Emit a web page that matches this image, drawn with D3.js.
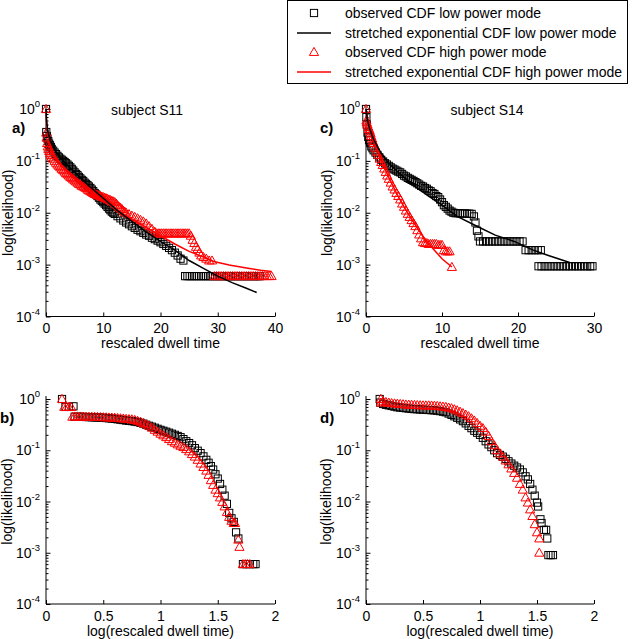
<!DOCTYPE html>
<html><head><meta charset="utf-8">
<script src="https://cdn.jsdelivr.net/npm/d3@7"></script>
<style>body{margin:0;background:#fff}text{font-family:"Liberation Sans",Arial,sans-serif;fill:#000}</style>
</head><body><svg id="c" width="632" height="639"></svg>
<script>
// ---------- data ----------
const legendLabels = ["observed CDF low power mode","stretched exponential CDF low power mode","observed CDF high power mode","stretched exponential CDF high power mode"];
const panelLetters = ["a)","c)","b)","d)"];
const panelTitles = ["subject S11","subject S14"];
const yTickExps = [0,-1,-2,-3,-4];
const xTicksLin = [[0,10,20,30,40],[0,10,20,30]];
const xTicksLog = [0,0.5,1,1.5,2];

// S11, rescaled dwell time
const s11LowObs = [[0,1],[0.05,0.36],[0.15,0.3],[0.25,0.27],[0.4,0.24],[0.55,0.215],[0.7,0.2],[0.85,0.185],[1,0.17],[1.25,0.157],[1.5,0.145],[1.75,0.135],[2,0.125],[2.25,0.117],[2.5,0.11],[2.75,0.105],[3,0.1],[3.25,0.095],[3.5,0.09],[3.75,0.085],[4,0.08],[4.25,0.075],[4.5,0.07],[4.75,0.065],[5,0.06],[5.25,0.056],[5.5,0.053],[5.75,0.049],[6,0.046],[6.25,0.043],[6.5,0.041],[6.75,0.038],[7,0.036],[7.25,0.034],[7.5,0.032],[7.75,0.03],[8,0.028],[8.25,0.026],[8.5,0.024],[8.75,0.0225],[9,0.021],[9.25,0.0195],[9.5,0.018],[9.75,0.017],[10,0.016],[10.25,0.015],[10.5,0.014],[10.75,0.013],[11,0.012],[11.25,0.0112],[11.5,0.0105],[11.75,0.01],[12,0.0095],[12.5,0.0086],[13,0.0078],[13.5,0.0071],[14,0.0065],[14.5,0.006],[15,0.0055],[15.5,0.0051],[16,0.0047],[16.5,0.0044],[17,0.0041],[17.5,0.0038],[18,0.0036],[18.5,0.0033],[19,0.0031],[19.5,0.0029],[20,0.0027],[20.5,0.0025],[21,0.0023],[21.5,0.0021],[22,0.0019],[22.5,0.0017],[23,0.0015],[23.5,0.0013],[24,0.0012],[24.3,0.0006],[24.7,0.0006],[25.1,0.0006],[25.5,0.0006],[25.9,0.0006],[26.3,0.0006],[26.7,0.0006],[27.1,0.0006],[27.5,0.0006],[27.9,0.0006],[28.3,0.0006],[28.7,0.0006],[29.1,0.0006],[29.5,0.0006],[29.9,0.0006],[30.3,0.0006],[30.7,0.0006],[31.1,0.0006],[31.5,0.0006],[31.9,0.0006],[32.3,0.0006],[32.7,0.0006],[33.1,0.0006],[33.5,0.0006],[33.9,0.0006],[34.3,0.0006],[34.7,0.0006],[35.1,0.0006],[35.5,0.0006],[35.9,0.0006],[36.3,0.0006],[36.7,0.0006],[37.1,0.0006],[37.4,0.0006]];
const s11HighObs = [[0,1],[0.05,0.35],[0.1,0.28],[0.2,0.22],[0.3,0.19],[0.4,0.17],[0.55,0.155],[0.7,0.14],[0.85,0.13],[1,0.12],[1.25,0.11],[1.5,0.1],[1.75,0.092],[2,0.085],[2.25,0.08],[2.5,0.075],[2.75,0.07],[3,0.066],[3.25,0.062],[3.5,0.058],[3.75,0.055],[4,0.052],[4.25,0.049],[4.5,0.047],[4.75,0.044],[5,0.042],[5.25,0.04],[5.5,0.038],[5.75,0.036],[6,0.035],[6.25,0.033],[6.5,0.032],[6.75,0.031],[7,0.03],[7.25,0.028],[7.5,0.027],[7.75,0.026],[8,0.025],[8.25,0.024],[8.5,0.023],[8.75,0.0225],[9,0.022],[9.25,0.0215],[9.5,0.021],[9.75,0.0205],[10,0.02],[10.25,0.0195],[10.5,0.019],[10.75,0.0185],[11,0.018],[11.25,0.0175],[11.5,0.017],[11.75,0.0165],[12,0.016],[12.25,0.015],[12.5,0.014],[12.75,0.013],[13,0.0125],[13.25,0.0118],[13.5,0.011],[13.75,0.0105],[14,0.01],[14.5,0.0094],[15,0.0088],[15.5,0.0083],[16,0.0078],[16.5,0.0073],[17,0.0068],[17.5,0.0062],[18,0.0055],[18.5,0.0049],[19,0.0043],[19.3,0.004],[19.6,0.004],[19.9,0.004],[20.2,0.004],[20.5,0.004],[20.8,0.004],[21.1,0.004],[21.4,0.004],[21.7,0.004],[22,0.004],[22.3,0.004],[22.6,0.004],[22.9,0.004],[23.2,0.004],[23.5,0.004],[23.8,0.004],[24.1,0.004],[24.4,0.004],[24.7,0.004],[25,0.004],[25.3,0.0036],[25.6,0.003],[25.9,0.0026],[26.2,0.0022],[26.5,0.002],[26.8,0.0017],[27.1,0.0015],[27.5,0.0014],[28,0.0013],[28.5,0.0012],[29,0.0012],[29.4,0.0006],[29.8,0.0006],[30.2,0.0006],[30.6,0.0006],[31,0.0006],[31.4,0.0006],[31.8,0.0006],[32.2,0.0006],[32.6,0.0006],[33,0.0006],[33.4,0.0006],[33.8,0.0006],[34.2,0.0006],[34.6,0.0006],[35,0.0006],[35.4,0.0006],[35.8,0.0006],[36.2,0.0006],[36.6,0.0006],[37,0.0006],[37.4,0.0006],[37.8,0.0006],[38.2,0.0006],[38.6,0.0006],[39,0.0006],[39.4,0.0006]];
const s11LowFit = [[0,1],[0.1,0.6],[0.3,0.38],[0.7,0.25],[1.5,0.16],[3,0.1],[5,0.06],[7.5,0.033],[10,0.019],[12.5,0.011],[15,0.0068],[17.5,0.0043],[20,0.0028],[22.5,0.0019],[25,0.0012],[27.5,0.00085],[30,0.0006],[32.5,0.00045],[35,0.00035],[36.8,0.00029]];
const s11HighFit = [[0,1],[0.1,0.55],[0.3,0.35],[0.7,0.22],[1.5,0.13],[3,0.075],[5,0.045],[7.5,0.027],[10,0.017],[12.5,0.011],[15,0.0075],[17.5,0.0052],[20,0.0036],[22.5,0.0025],[25,0.0018],[27.5,0.0014],[29.3,0.00115],[32,0.00098],[35,0.00086],[37.5,0.00078],[39.4,0.00074]];

// S14, rescaled dwell time
const s14LowObs = [[0,1],[0.05,0.7],[0.1,0.5],[0.2,0.35],[0.3,0.29],[0.4,0.25],[0.55,0.22],[0.7,0.19],[0.85,0.175],[1,0.16],[1.25,0.145],[1.5,0.13],[1.75,0.117],[2,0.105],[2.25,0.097],[2.5,0.09],[2.75,0.085],[3,0.08],[3.25,0.075],[3.5,0.071],[3.75,0.068],[4,0.065],[4.25,0.062],[4.5,0.06],[4.75,0.056],[5,0.052],[5.25,0.05],[5.5,0.047],[5.75,0.045],[6,0.043],[6.25,0.041],[6.5,0.039],[6.75,0.037],[7,0.035],[7.25,0.033],[7.5,0.032],[7.75,0.03],[8,0.029],[8.25,0.027],[8.5,0.026],[8.75,0.024],[9,0.023],[9.25,0.021],[9.5,0.02],[9.75,0.018],[10,0.016],[10.25,0.014],[10.5,0.013],[10.75,0.012],[11,0.011],[11.25,0.0105],[11.5,0.01],[11.8,0.0098],[12.1,0.0098],[12.4,0.0097],[12.7,0.0097],[13,0.0097],[13.3,0.0096],[13.6,0.0096],[13.9,0.0095],[14.2,0.0085],[14.4,0.0065],[14.6,0.0045],[14.8,0.0035],[15,0.0028],[15.4,0.0028],[15.8,0.0028],[16.2,0.0028],[16.6,0.0028],[17,0.0028],[17.4,0.0028],[17.8,0.0028],[18.2,0.0028],[18.6,0.0028],[19,0.0028],[19.4,0.0028],[19.8,0.0028],[20.2,0.0028],[20.6,0.0028],[21,0.0019],[21.4,0.0019],[21.8,0.0019],[22.2,0.0019],[22.6,0.0019],[23,0.0019],[22.7,0.00093],[23.1,0.00093],[23.5,0.00093],[23.9,0.00093],[24.3,0.00093],[24.7,0.00093],[25.1,0.00093],[25.5,0.00093],[25.9,0.00093],[26.3,0.00093],[26.7,0.00093],[27.1,0.00093],[27.5,0.00093],[27.9,0.00093],[28.3,0.00093],[28.7,0.00093],[29.1,0.00093],[29.5,0.00093],[29.8,0.00093]];
const s14HighObs = [[0,1],[0.05,0.6],[0.1,0.55],[0.2,0.5],[0.3,0.45],[0.4,0.41],[0.5,0.38],[0.6,0.34],[0.7,0.3],[0.8,0.27],[0.9,0.24],[1,0.22],[1.2,0.18],[1.4,0.15],[1.6,0.13],[1.8,0.11],[2,0.095],[2.2,0.083],[2.4,0.071],[2.6,0.061],[2.8,0.052],[3,0.045],[3.25,0.038],[3.5,0.032],[3.75,0.028],[4,0.024],[4.25,0.021],[4.5,0.018],[4.75,0.015],[5,0.013],[5.25,0.011],[5.5,0.0095],[5.75,0.0083],[6,0.0072],[6.25,0.0063],[6.5,0.0055],[6.75,0.0046],[7,0.0038],[7.25,0.0032],[7.5,0.0027],[7.75,0.0026],[8,0.0026],[8.25,0.0025],[8.5,0.0025],[8.75,0.0025],[9,0.0025],[9.25,0.0025],[9.5,0.0024],[9.75,0.0024],[10,0.0024],[10.25,0.0019],[10.5,0.0018],[10.75,0.0018],[11,0.0018],[11.3,0.0009]];
const s14LowFit = [[0,1],[0.2,0.6],[0.5,0.4],[1,0.26],[2,0.14],[3,0.09],[4,0.065],[5,0.048],[6,0.036],[8,0.022],[10,0.014],[12,0.0085],[14.6,0.0055],[17,0.0037],[19.5,0.0028],[22,0.0019],[24,0.0015],[26.8,0.0011]];
const s14HighFit = [[0,1],[0.5,0.4],[1,0.24],[2,0.1],[3,0.048],[4,0.024],[5,0.013],[6,0.0075],[7,0.0045],[8,0.0028],[9,0.0019],[10,0.0013],[11.3,0.0009]];

// S11, log(rescaled dwell time)
const s11LowLog = [[0.14,1],[0.17,0.7],[0.2,0.7],[0.24,0.72],[0.25,0.45],[0.275,0.45],[0.3,0.45],[0.325,0.448],[0.35,0.445],[0.375,0.443],[0.4,0.44],[0.425,0.438],[0.45,0.435],[0.475,0.433],[0.5,0.43],[0.525,0.425],[0.55,0.42],[0.575,0.415],[0.6,0.41],[0.625,0.402],[0.65,0.395],[0.675,0.388],[0.7,0.38],[0.725,0.375],[0.75,0.37],[0.775,0.362],[0.8,0.355],[0.825,0.343],[0.85,0.33],[0.875,0.315],[0.9,0.3],[0.925,0.288],[0.95,0.275],[0.975,0.262],[1,0.25],[1.025,0.24],[1.05,0.23],[1.075,0.22],[1.1,0.21],[1.125,0.2],[1.15,0.19],[1.175,0.18],[1.2,0.165],[1.225,0.15],[1.25,0.138],[1.275,0.125],[1.3,0.11],[1.325,0.098],[1.35,0.088],[1.375,0.076],[1.4,0.065],[1.42,0.057],[1.44,0.049],[1.46,0.042],[1.48,0.034],[1.5,0.028],[1.52,0.022],[1.54,0.017],[1.56,0.013],[1.58,0.009],[1.6,0.006],[1.62,0.0047],[1.64,0.004],[1.66,0.0025],[1.68,0.0019],[1.72,0.0006],[1.75,0.0006],[1.78,0.0006],[1.81,0.0006],[1.83,0.0006]];
const s11HighLog = [[0.14,1],[0.16,0.7],[0.18,0.7],[0.2,0.7],[0.22,0.7],[0.23,0.45],[0.25,0.455],[0.275,0.455],[0.3,0.455],[0.325,0.453],[0.35,0.45],[0.375,0.45],[0.4,0.45],[0.425,0.448],[0.45,0.445],[0.475,0.443],[0.5,0.44],[0.525,0.438],[0.55,0.435],[0.575,0.433],[0.6,0.43],[0.625,0.425],[0.65,0.42],[0.675,0.415],[0.7,0.41],[0.725,0.405],[0.75,0.4],[0.775,0.39],[0.8,0.375],[0.825,0.36],[0.85,0.34],[0.875,0.32],[0.9,0.3],[0.925,0.275],[0.95,0.25],[0.975,0.23],[1,0.21],[1.025,0.195],[1.05,0.18],[1.075,0.165],[1.1,0.15],[1.125,0.14],[1.15,0.13],[1.175,0.122],[1.2,0.115],[1.225,0.105],[1.25,0.095],[1.275,0.084],[1.3,0.075],[1.325,0.065],[1.35,0.055],[1.375,0.047],[1.4,0.04],[1.42,0.033],[1.44,0.026],[1.46,0.021],[1.48,0.017],[1.5,0.0145],[1.52,0.012],[1.54,0.0098],[1.56,0.008],[1.58,0.0062],[1.6,0.005],[1.62,0.0042],[1.64,0.0038],[1.65,0.0038],[1.68,0.0018],[1.69,0.0013],[1.72,0.0006],[1.74,0.0006],[1.76,0.0006],[1.78,0.0006]];
// S14, log(rescaled dwell time)
const s14LowLog = [[0.12,1],[0.125,0.85],[0.15,0.8],[0.175,0.77],[0.2,0.75],[0.225,0.73],[0.25,0.71],[0.275,0.69],[0.3,0.68],[0.325,0.67],[0.35,0.66],[0.375,0.65],[0.4,0.64],[0.425,0.635],[0.45,0.63],[0.475,0.625],[0.5,0.62],[0.525,0.615],[0.55,0.61],[0.575,0.605],[0.6,0.6],[0.625,0.59],[0.65,0.58],[0.675,0.565],[0.7,0.55],[0.725,0.52],[0.75,0.49],[0.775,0.46],[0.8,0.43],[0.825,0.4],[0.85,0.37],[0.875,0.335],[0.9,0.3],[0.925,0.27],[0.95,0.24],[0.975,0.22],[1,0.2],[1.025,0.175],[1.05,0.15],[1.075,0.13],[1.1,0.115],[1.125,0.1],[1.15,0.088],[1.175,0.081],[1.2,0.075],[1.225,0.068],[1.25,0.061],[1.275,0.055],[1.3,0.05],[1.325,0.046],[1.35,0.042],[1.375,0.037],[1.4,0.031],[1.42,0.027],[1.44,0.022],[1.46,0.017],[1.48,0.013],[1.5,0.0095],[1.51,0.008],[1.53,0.0045],[1.54,0.0038],[1.56,0.0028],[1.58,0.0028],[1.59,0.0019],[1.6,0.0009],[1.62,0.0009],[1.64,0.0009]];
const s14HighLog = [[0.13,1],[0.13,0.85],[0.15,0.9],[0.175,0.87],[0.2,0.85],[0.225,0.83],[0.25,0.82],[0.275,0.81],[0.3,0.8],[0.325,0.79],[0.35,0.78],[0.375,0.775],[0.4,0.77],[0.425,0.765],[0.45,0.76],[0.475,0.755],[0.5,0.75],[0.525,0.75],[0.55,0.75],[0.575,0.745],[0.6,0.74],[0.625,0.73],[0.65,0.72],[0.675,0.71],[0.7,0.7],[0.725,0.68],[0.75,0.66],[0.775,0.63],[0.8,0.6],[0.825,0.565],[0.85,0.53],[0.875,0.495],[0.9,0.46],[0.925,0.42],[0.95,0.38],[0.975,0.34],[1,0.3],[1.025,0.27],[1.05,0.23],[1.075,0.19],[1.1,0.15],[1.125,0.125],[1.15,0.1],[1.175,0.087],[1.2,0.075],[1.225,0.063],[1.25,0.053],[1.275,0.044],[1.3,0.036],[1.325,0.029],[1.35,0.022],[1.375,0.017],[1.4,0.012],[1.42,0.0095],[1.44,0.007],[1.46,0.0052],[1.48,0.0036],[1.5,0.0025],[1.52,0.0019],[1.52,0.001]];

// ---------- drawing ----------
const svg = d3.select("#c");
const FONT = 14;
const FAMILY = '"Liberation Sans",Arial,sans-serif';
const panels = [
  {x0:46, x1:275, yT:109, yB:316.5, dom:[0,40], ticks:xTicksLin[0], fmt:d3.format("d"), xlabel:"rescaled dwell time",
   low:s11LowObs, high:s11HighObs, lowFit:s11LowFit, highFit:s11HighFit, title:panelTitles[0], titleX:147, letter:panelLetters[0], letX:12, ylabX:13},
  {x0:366, x1:594, yT:109, yB:316.5, dom:[0,30], ticks:xTicksLin[1], fmt:d3.format("d"), xlabel:"rescaled dwell time",
   low:s14LowObs, high:s14HighObs, lowFit:s14LowFit, highFit:s14HighFit, title:panelTitles[1], titleX:487, letter:panelLetters[1], letX:320, ylabX:332},
  {x0:46, x1:275, yT:399, yB:604, dom:[0,2], ticks:xTicksLog, fmt:d => String(d), xlabel:"log(rescaled dwell time)",
   low:s11LowLog, high:s11HighLog, letter:panelLetters[2], letX:0, ylabX:11.5},
  {x0:366, x1:594, yT:399, yB:604, dom:[0,2], ticks:xTicksLog, fmt:d => String(d), xlabel:"log(rescaled dwell time)",
   low:s14LowLog, high:s14HighLog, letter:panelLetters[3], letX:320, ylabX:331}
];

const sq = 3.6, tr = 4.6;
const triPath = `M0,${-tr}L${tr},${tr*0.75}L${-tr},${tr*0.75}Z`;

panels.forEach(p => {
  const x = d3.scaleLinear().domain(p.dom).range([p.x0, p.x1]);
  const y = d3.scaleLog().domain([1e-4, 1]).range([p.yB, p.yT]);
  const g = svg.append("g");

  const ax = g.append("g").attr("transform", `translate(0,${p.yB})`)
    .call(d3.axisBottom(x).tickValues(p.ticks).tickFormat(p.fmt).tickSizeInner(-4).tickSizeOuter(0).tickPadding(5));
  const minor = [];
  for (let e = -4; e < 0; e++) for (let m = 2; m <= 9; m++) minor.push(m * Math.pow(10, e));
  const ay = g.append("g").attr("transform", `translate(${p.x0},0)`)
    .call(d3.axisLeft(y).tickValues(minor).tickFormat("").tickSizeInner(-2.5).tickSizeOuter(0));
  const ay2 = g.append("g").attr("transform", `translate(${p.x0},0)`)
    .call(d3.axisLeft(y).tickValues(yTickExps.map(e => Math.pow(10, e))).tickFormat("").tickSizeInner(-4.5).tickSizeOuter(0));
  [ax, ay, ay2].forEach(a => {
    a.selectAll("path,line").attr("stroke", "#000").attr("stroke-width", 1);
    a.selectAll("text").attr("font-size", FONT).attr("font-family", FAMILY).attr("fill", "#000").attr("dy", null);
  });
  ax.selectAll("text").attr("y", 16.5);
  ax.select(".domain").attr("d", `M${p.x0},0H${p.x1}`);
  ay.select(".domain").attr("d", `M0,${p.yT - 3}V${p.yB}`);
  ay2.select(".domain").remove();

  yTickExps.forEach(e => {
    const t = g.append("text").attr("x", p.x0 - 6).attr("y", y(Math.pow(10, e)) + 5)
      .attr("text-anchor", "end").attr("font-size", FONT);
    t.append("tspan").text("10");
    t.append("tspan").attr("dy", -7).attr("font-size", 9.5).text(String(e));
  });

  g.append("text").attr("x", (p.x0 + p.x1) / 2).attr("y", p.yB + 31.5).attr("text-anchor", "middle")
    .attr("font-size", FONT).text(p.xlabel);
  g.append("text").attr("transform", `translate(${p.ylabX},${(p.yT + p.yB) / 2}) rotate(-90)`)
    .attr("text-anchor", "middle").attr("font-size", FONT).text("log(likelihood)");
  g.append("text").attr("x", p.letX).attr("y", p.yT + 24).attr("font-size", 15).attr("font-weight", "bold").text(p.letter);
  if (p.title) g.append("text").attr("x", p.titleX).attr("y", p.yT + 6).attr("text-anchor", "middle").attr("font-size", FONT).text(p.title);

  g.append("g").selectAll("rect").data(p.low).join("rect")
    .attr("x", d => x(d[0]) - sq).attr("y", d => y(d[1]) - sq).attr("width", 2 * sq).attr("height", 2 * sq)
    .attr("fill", "none").attr("stroke", "#000").attr("stroke-width", 1);
  g.append("g").selectAll("path").data(p.high).join("path")
    .attr("transform", d => `translate(${x(d[0])},${y(d[1])})`).attr("d", triPath)
    .attr("fill", "none").attr("stroke", "#f00").attr("stroke-width", 1);
  const line = d3.line().x(d => x(d[0])).y(d => y(d[1]));
  if (p.highFit) g.append("path").datum(p.highFit).attr("d", line).attr("fill", "none").attr("stroke", "#f00").attr("stroke-width", 1.5);
  if (p.lowFit) g.append("path").datum(p.lowFit).attr("d", line).attr("fill", "none").attr("stroke", "#000").attr("stroke-width", 1.5);
});

// legend
const lg = svg.append("g");
lg.append("rect").attr("x", 287.5).attr("y", 0.5).attr("width", 340).attr("height", 83).attr("fill", "#fff").attr("stroke", "#000");
const ly = [13, 33, 52, 72];
legendLabels.forEach((t, i) => {
  const yy = ly[i];
  if (i === 0) lg.append("rect").attr("x", 314 - sq).attr("y", yy - sq).attr("width", 2 * sq).attr("height", 2 * sq).attr("fill", "none").attr("stroke", "#000");
  if (i === 2) lg.append("path").attr("transform", `translate(314,${yy})`).attr("d", triPath).attr("fill", "none").attr("stroke", "#f00");
  if (i === 1 || i === 3) lg.append("line").attr("x1", 297).attr("x2", 331).attr("y1", yy).attr("y2", yy).attr("stroke", i === 1 ? "#000" : "#f00").attr("stroke-width", 1.5);
  lg.append("text").attr("x", 345).attr("y", yy + 5).attr("font-size", FONT).text(t);
});
</script></body></html>
